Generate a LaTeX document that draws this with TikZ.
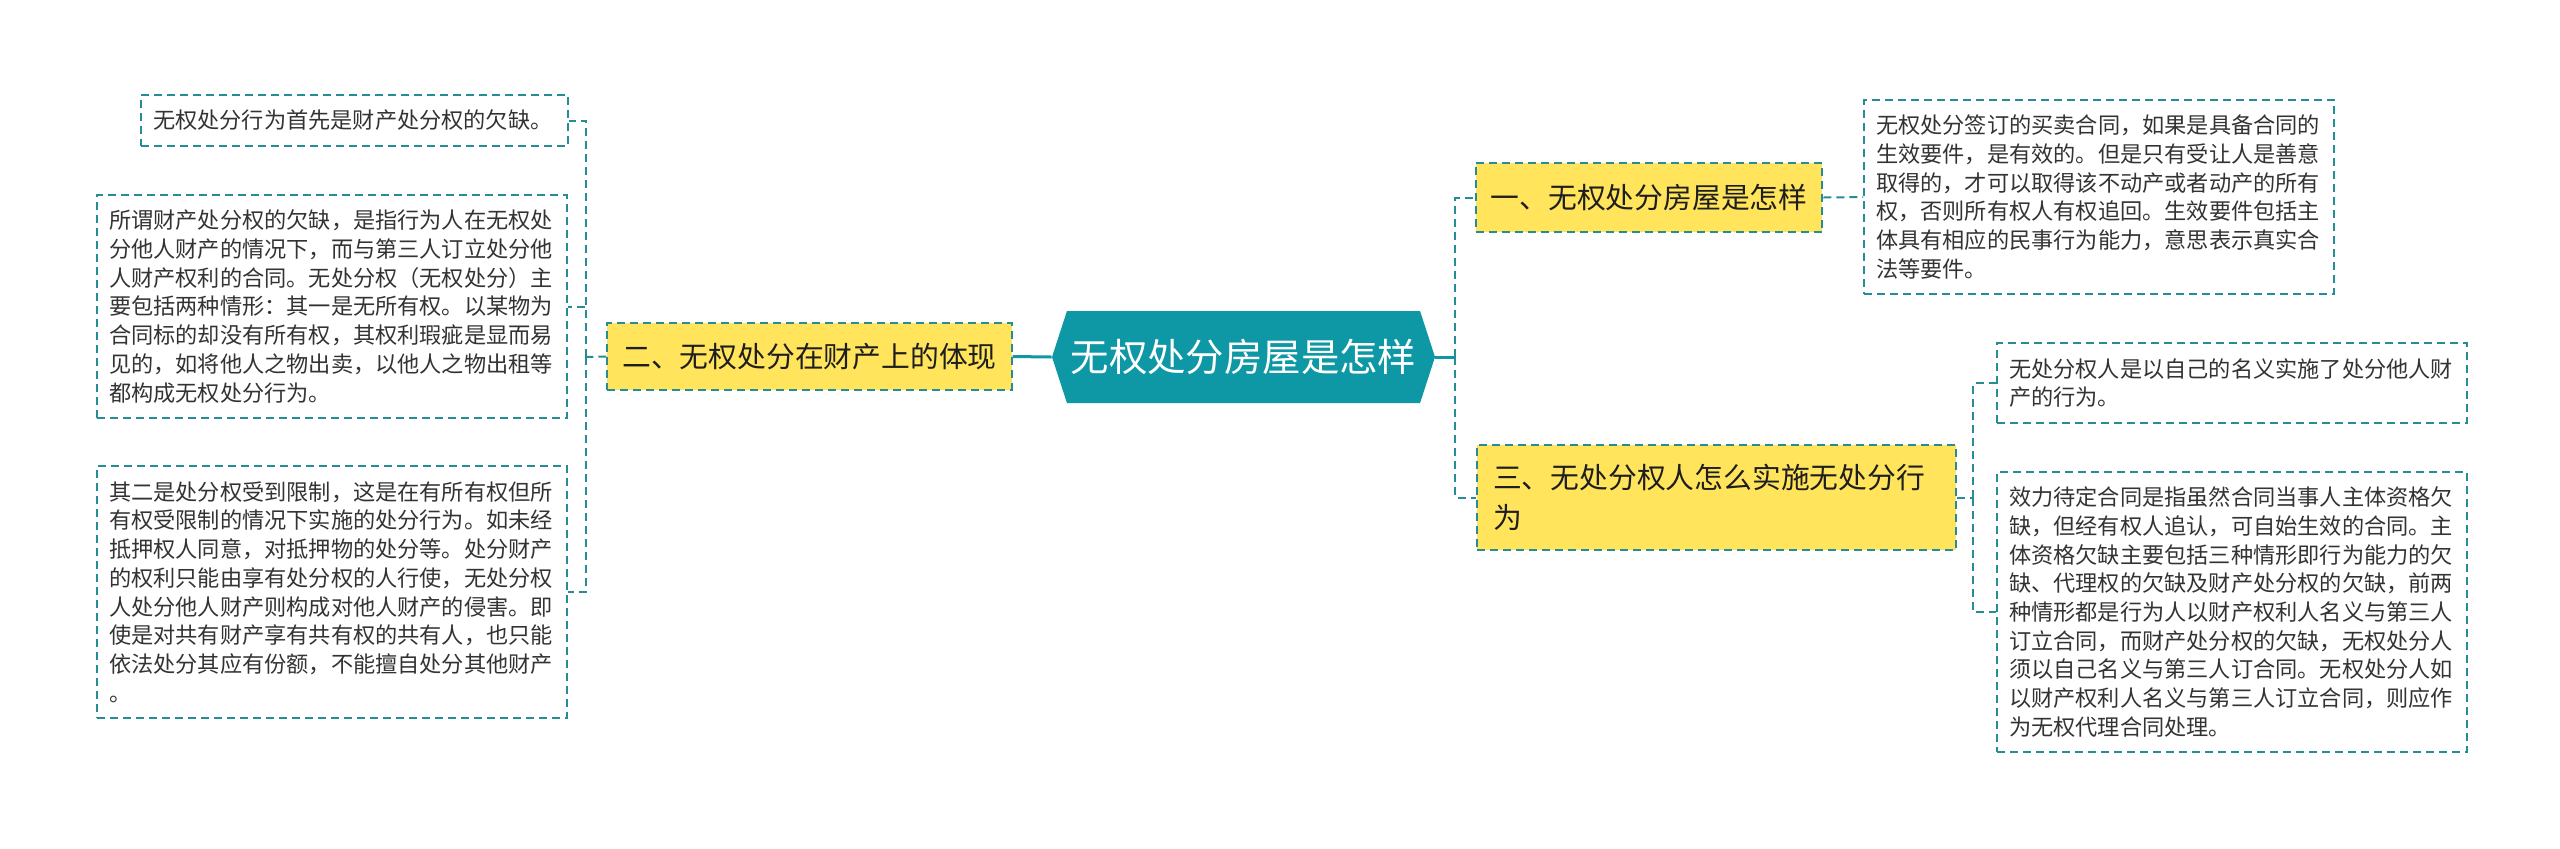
\documentclass[tikz,border=0pt]{standalone}
\usepackage{fontspec}
\setmainfont{Noto Sans CJK SC}
\usetikzlibrary{shapes.symbols}
\definecolor{rootteal}{RGB}{14,152,165}
\definecolor{linkteal}{RGB}{38,140,150}
\definecolor{topicyellow}{RGB}{255,228,92}
\definecolor{leaftext}{RGB}{51,51,51}
\definecolor{topictext}{RGB}{30,30,30}

\tikzset{
    rootbox/.style={shape=signal, signal to=west and east, signal pointer angle=144,
        fill=rootteal, text=white, inner sep=0pt,
        minimum width=191.5pt, minimum height=46pt,
        font=\fontsize{19.2pt}{23pt}\selectfont},
    topicbox/.style={fill=topicyellow, draw=linkteal, dashed, line width=1pt,
        dash pattern=on 4pt off 2.5pt, text=topictext, inner xsep=7.5pt,
        font=\fontsize{14.4pt}{20pt}\selectfont},
    leafbox/.style={draw=linkteal, line width=1pt, dash pattern=on 4pt off 2.5pt,
        text=leaftext, anchor=west, align=left, text width=223pt,
        inner xsep=6pt, inner ysep=7pt,
        font=\fontsize{11.1pt}{14.35pt}\selectfont},
    mainlink/.style={draw=rootteal, line width=1.5pt},
    sublink/.style={draw=linkteal, line width=1pt, dash pattern=on 4pt off 2.5pt},
}

\begin{document}
\begin{tikzpicture}[x=0.5pt, y=-0.5pt]
    \useasboundingbox (0,0) rectangle (2560,848);

    % central topic
    \node[rootbox] (root) at (1243.5,357) {无权处分房屋是怎样};

    % first level topics
    \node[topicbox, minimum height=34.5pt] (t1) at (1649,197.5) {一、无权处分房屋是怎样};
    \node[topicbox, minimum height=33.5pt] (t2) at (809.5,356.5) {二、无权处分在财产上的体现};
    \node[topicbox, anchor=west, align=left, text width=223.5pt, inner xsep=8pt,
        minimum height=52.5pt] (t3) at (1476,497.5) {三、无处分权人怎么实施无处分行\\为};

    % left leaves
    \node[leafbox, text width=201.6pt, minimum height=25.5pt] (l1) at (140,120.5)
        {无权处分行为首先是财产处分权的欠缺。};
    \node[leafbox, minimum height=111.5pt] (l2) at (96,306.5)
        {所谓财产处分权的欠缺，是指行为人在无权处\\
         分他人财产的情况下，而与第三人订立处分他\\
         人财产权利的合同。无处分权（无权处分）主\\
         要包括两种情形：其一是无所有权。以某物为\\
         合同标的却没有所有权，其权利瑕疵是显而易\\
         见的，如将他人之物出卖，以他人之物出租等\\
         都构成无权处分行为。};
    \node[leafbox, minimum height=126pt] (l3) at (96,592)
        {其二是处分权受到限制，这是在有所有权但所\\
         有权受限制的情况下实施的处分行为。如未经\\
         抵押权人同意，对抵押物的处分等。处分财产\\
         的权利只能由享有处分权的人行使，无处分权\\
         人处分他人财产则构成对他人财产的侵害。即\\
         使是对共有财产享有共有权的共有人，也只能\\
         依法处分其应有份额，不能擅自处分其他财产\\
         。};

    % right leaves
    \node[leafbox, minimum height=97pt] (r1) at (1863,197)
        {无权处分签订的买卖合同，如果是具备合同的\\
         生效要件，是有效的。但是只有受让人是善意\\
         取得的，才可以取得该不动产或者动产的所有\\
         权，否则所有权人有权追回。生效要件包括主\\
         体具有相应的民事行为能力，意思表示真实合\\
         法等要件。};
    \node[leafbox, minimum height=40pt] (r2) at (1996,383)
        {无处分权人是以自己的名义实施了处分他人财\\
         产的行为。};
    \node[leafbox, minimum height=140pt] (r3) at (1996,612)
        {效力待定合同是指虽然合同当事人主体资格欠\\
         缺，但经有权人追认，可自始生效的合同。主\\
         体资格欠缺主要包括三种情形即行为能力的欠\\
         缺、代理权的欠缺及财产处分权的欠缺，前两\\
         种情形都是行为人以财产权利人名义与第三人\\
         订立合同，而财产处分权的欠缺，无权处分人\\
         须以自己名义与第三人订合同。无权处分人如\\
         以财产权利人名义与第三人订立合同，则应作\\
         为无权代理合同处理。};

    % joints
    \coordinate (ljoint) at (586,357);
    \coordinate (rjoint) at (1455,357);
    \coordinate (tjoint) at (1973,497.5);

    % connectors
    \draw[mainlink] (root.west) -- (t2.east);
    \draw[mainlink] (root.east) -- (rjoint);
    \draw[sublink] (rjoint) |- (t1.west);
    \draw[sublink] (rjoint) |- (t3.west);
    \draw[sublink] (t2.west) -- (ljoint);
    \draw[sublink] (ljoint) |- (l1.east);
    \draw[sublink] (ljoint) |- (l2.east);
    \draw[sublink] (ljoint) |- (l3.east);
    \draw[sublink] (t1.east) -- (r1.west);
    \draw[sublink] (t3.east) -- (tjoint);
    \draw[sublink] (tjoint) |- (r2.west);
    \draw[sublink] (tjoint) |- (r3.west);
\end{tikzpicture}
\end{document}
